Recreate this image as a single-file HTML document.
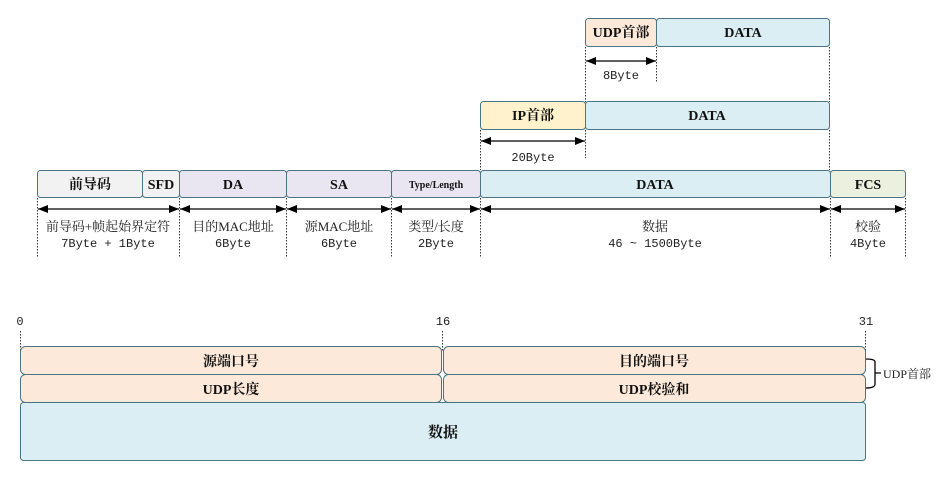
<!DOCTYPE html>
<html><head><meta charset="utf-8"><style>
html,body{margin:0;padding:0;background:#fff;}
svg{display:block;}
.b{font-family:"Liberation Serif","Noto Serif CJK SC",serif;font-weight:bold;font-size:14px;fill:#111;}
.n{font-family:"Liberation Mono","Noto Sans CJK SC",monospace;font-size:12px;fill:#222;}
.c{font-family:"Liberation Serif","Noto Serif CJK SC",serif;font-size:13px;fill:#222;}
.bx{stroke:#4a7584;stroke-width:1;}
.d{stroke:#333;stroke-width:1;stroke-dasharray:1.5 1.5;fill:none;}
.a{stroke:#000;stroke-width:1.3;marker-start:url(#ms);marker-end:url(#me);}
</style></head><body>
<svg width="950" height="479" viewBox="0 0 950 479" xmlns="http://www.w3.org/2000/svg">
<defs>
<marker id="me" markerWidth="10" markerHeight="8" refX="10" refY="4" orient="auto" markerUnits="userSpaceOnUse"><path d="M0,0 L10,4 L0,8 z" fill="#000"/></marker>
<marker id="ms" markerWidth="10" markerHeight="8" refX="0" refY="4" orient="auto" markerUnits="userSpaceOnUse"><path d="M10,0 L0,4 L10,8 z" fill="#000"/></marker>
</defs>

<!-- UDP row -->
<rect class="bx" x="585.5" y="18.5" width="71" height="28" rx="3" fill="#fce9da"/>
<rect class="bx" x="656.5" y="18.5" width="173" height="28" rx="3" fill="#dbeef4"/>
<text class="b" x="621" y="37" text-anchor="middle">UDP首部</text>
<text class="b" x="743" y="37" text-anchor="middle">DATA</text>
<line class="d" x1="585.5" y1="47" x2="585.5" y2="102"/>
<line class="d" x1="656.5" y1="47" x2="656.5" y2="83"/>
<line class="d" x1="829.5" y1="47" x2="829.5" y2="102"/>
<line class="a" x1="586" y1="61" x2="656" y2="61"/>
<text class="n" x="621" y="79" text-anchor="middle">8Byte</text>

<!-- IP row -->
<rect class="bx" x="480.5" y="101.5" width="105" height="28" rx="3" fill="#fff2cc"/>
<rect class="bx" x="585.5" y="101.5" width="244" height="28" rx="3" fill="#dbeef4"/>
<text class="b" x="533" y="120" text-anchor="middle">IP首部</text>
<text class="b" x="707" y="120" text-anchor="middle">DATA</text>
<line class="d" x1="480.5" y1="130" x2="480.5" y2="170"/>
<line class="d" x1="585.5" y1="130" x2="585.5" y2="158"/>
<line class="d" x1="829.5" y1="130" x2="829.5" y2="170"/>
<line class="a" x1="481" y1="141" x2="585" y2="141"/>
<text class="n" x="533" y="161" text-anchor="middle">20Byte</text>

<!-- Ethernet row -->
<rect class="bx" x="37.5" y="170.5" width="105" height="27" rx="3" fill="#f2f2f2"/>
<rect class="bx" x="142.5" y="170.5" width="37" height="27" rx="3" fill="#f2f2f2"/>
<rect class="bx" x="179.5" y="170.5" width="107" height="27" rx="3" fill="#e9e6f1"/>
<rect class="bx" x="286.5" y="170.5" width="105" height="27" rx="3" fill="#e9e6f1"/>
<rect class="bx" x="391.5" y="170.5" width="89" height="27" rx="3" fill="#e9e6f1"/>
<rect class="bx" x="480.5" y="170.5" width="350" height="27" rx="3" fill="#dbeef4"/>
<rect class="bx" x="830.5" y="170.5" width="75" height="27" rx="3" fill="#ebf1de"/>
<text class="b" x="90" y="189" text-anchor="middle">前导码</text>
<text class="b" x="161" y="189" text-anchor="middle">SFD</text>
<text class="b" x="233" y="189" text-anchor="middle">DA</text>
<text class="b" x="339" y="189" text-anchor="middle">SA</text>
<text class="b" x="436" y="188" text-anchor="middle" style="font-size:10px">Type/Length</text>
<text class="b" x="655" y="189" text-anchor="middle">DATA</text>
<text class="b" x="868" y="189" text-anchor="middle">FCS</text>

<g>
<line class="d" x1="37.5" y1="198" x2="37.5" y2="258"/>
<line class="d" x1="179.5" y1="198" x2="179.5" y2="258"/>
<line class="d" x1="286.5" y1="198" x2="286.5" y2="258"/>
<line class="d" x1="391.5" y1="198" x2="391.5" y2="258"/>
<line class="d" x1="480.5" y1="198" x2="480.5" y2="258"/>
<line class="d" x1="830.5" y1="198" x2="830.5" y2="258"/>
<line class="d" x1="905.5" y1="198" x2="905.5" y2="258"/>
</g>
<line class="a" x1="38" y1="209" x2="179" y2="209"/>
<line class="a" x1="180" y1="209" x2="286" y2="209"/>
<line class="a" x1="287" y1="209" x2="391" y2="209"/>
<line class="a" x1="392" y1="209" x2="480" y2="209"/>
<line class="a" x1="481" y1="209" x2="830" y2="209"/>
<line class="a" x1="831" y1="209" x2="905" y2="209"/>

<text class="c" x="108" y="231" text-anchor="middle">前导码+帧起始界定符</text>
<text class="n" x="108" y="247" text-anchor="middle">7Byte + 1Byte</text>
<text class="c" x="233" y="231" text-anchor="middle">目的MAC地址</text>
<text class="n" x="233" y="247" text-anchor="middle">6Byte</text>
<text class="c" x="339" y="231" text-anchor="middle">源MAC地址</text>
<text class="n" x="339" y="247" text-anchor="middle">6Byte</text>
<text class="c" x="436" y="231" text-anchor="middle">类型/长度</text>
<text class="n" x="436" y="247" text-anchor="middle">2Byte</text>
<text class="c" x="655" y="231" text-anchor="middle">数据</text>
<text class="n" x="655" y="247" text-anchor="middle">46 ~ 1500Byte</text>
<text class="c" x="868" y="231" text-anchor="middle">校验</text>
<text class="n" x="868" y="247" text-anchor="middle">4Byte</text>

<!-- UDP header diagram -->
<text class="n" x="20" y="325" text-anchor="middle">0</text>
<text class="n" x="443" y="325" text-anchor="middle">16</text>
<text class="n" x="866" y="325" text-anchor="middle">31</text>
<line class="d" x1="20.5" y1="331" x2="20.5" y2="352"/>
<line class="d" x1="442.5" y1="331" x2="442.5" y2="352"/>
<line class="d" x1="865.5" y1="331" x2="865.5" y2="352"/>

<rect class="bx" x="20.5" y="346.5" width="421" height="28" rx="5" fill="#fce9da"/>
<rect class="bx" x="443.5" y="346.5" width="422" height="28" rx="5" fill="#fce9da"/>
<rect class="bx" x="20.5" y="374.5" width="421" height="28" rx="5" fill="#fce9da"/>
<rect class="bx" x="443.5" y="374.5" width="422" height="28" rx="5" fill="#fce9da"/>
<rect class="bx" x="20.5" y="402.5" width="845" height="58" rx="3" fill="#dbeef4"/>
<text class="b" x="231" y="366" text-anchor="middle">源端口号</text>
<text class="b" x="654" y="366" text-anchor="middle">目的端口号</text>
<text class="b" x="231" y="394" text-anchor="middle">UDP长度</text>
<text class="b" x="654" y="394" text-anchor="middle">UDP校验和</text>
<text class="b" x="443" y="437" text-anchor="middle" style="font-size:15px">数据</text>

<path d="M866,359 Q875,359 875,362 L875,384 Q875,388 866,388 M875,373 L881,373" stroke="#000" stroke-width="1.3" fill="none"/>
<text class="c" x="907" y="378" text-anchor="middle" style="font-size:12px">UDP首部</text>
</svg>
</body></html>
